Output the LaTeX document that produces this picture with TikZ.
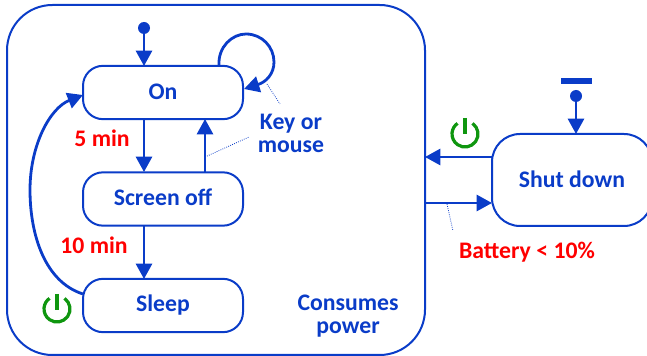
\documentclass[tikz,border=0pt]{standalone}
\usepackage{fontspec}
\setmainfont{Carlito}
\usetikzlibrary{arrows.meta}
\definecolor{bl}{HTML}{0A3CC8}
\definecolor{rd}{HTML}{FF0000}
\definecolor{gr}{HTML}{0F960F}
\tikzset{x=0.75pt,y=-0.75pt,
 statebox/.style={draw=bl,line width=1.5pt,rounded corners=15pt,minimum width=120pt,minimum height=40pt,inner sep=0pt},
 outerbox/.style={draw=bl,line width=1.5pt,rounded corners=34pt,minimum width=313.5pt,minimum height=262.5pt,inner sep=0pt},
 conn/.style={draw=bl,line width=2.1pt,-{Triangle[length=11.5pt,width=12pt]}},
 dot/.style={circle,fill=bl,minimum size=9pt,inner sep=0pt},
 leader/.style={draw=bl,line width=0.6pt,densely dotted},
 lbl/.style={font=\fontsize{17.8}{17.2}\selectfont\bfseries,text=bl,align=center,inner sep=0pt},
 redlbl/.style={font=\fontsize{17.8}{17}\selectfont\bfseries,text=rd,inner sep=0pt},
 powerarc/.style={draw=gr,line width=2.4pt},
}
\begin{document}
\begin{tikzpicture}
\useasboundingbox (0,0) rectangle (647,356);
\node[outerbox] (outer) at (216,180) {};
\node[statebox] (on) at (163,92.5) {};
\node[lbl] (ontext) at (163,92) {On};
\node[statebox] (screen) at (163,199) {};
\node[lbl] (screentext) at (163,197) {Screen off};
\node[statebox] (sleep) at (163,305.5) {};
\node[lbl] (sleeptext) at (163,305) {Sleep};
\node[draw=bl,line width=1.5pt,rounded corners=21pt,minimum width=120pt,minimum height=69pt,inner sep=0pt] (shut) at (572,180) {};
\node[lbl] (shuttext) at (572,179) {Shut down};
\node[dot] (init) at (144,28) {};
\node[dot] (init2) at (576,96) {};
\node[fill=bl,minimum width=23pt,minimum height=4.5pt,inner sep=0pt] (bar) at (576.5,81) {};
\coordinate (onA) at (144,66);
\coordinate (onB) at (144,119);
\coordinate (scA) at (144,172);
\coordinate (scB) at (205,172);
\coordinate (onC) at (205,119);
\coordinate (scC) at (144,226);
\coordinate (slA) at (144,279);
\coordinate (shT) at (576,134);
\draw[conn] (init) -- (onA);
\draw[conn] (onB) -- (scA);
\draw[conn] (scB) -- (onC);
\draw[conn] (scC) -- (slA);
\draw[conn] (init2) -- (shT);
\coordinate (slL) at (83,294);
\coordinate (onL) at (83,95);
\draw[conn] (slL) .. controls (45,282) and (30,235) .. (30,190) .. controls (30,145) and (50,108) .. (onL);
\coordinate (loopS) at (219,65);
\coordinate (loopE) at (244,89);
\draw[conn] (loopS) .. controls (218,47) and (232,34) .. (246,34) .. controls (262,34) and (274,47) .. (274,62) .. controls (274,74) and (266,82) .. (loopE);
\coordinate (oR1) at (425,157);
\coordinate (sL1) at (492,157);
\coordinate (oR2) at (425,203);
\coordinate (sL2) at (492,203);
\draw[conn] (sL1) -- (oR1);
\draw[conn] (oR2) -- (sL2);
\coordinate (k1) at (267,84); \coordinate (k2) at (280,104);
\coordinate (k3) at (205,157); \coordinate (k4) at (249,137);
\coordinate (k5) at (447,204); \coordinate (k6) at (453,231);
\draw[leader] (k1) -- (k2);
\draw[leader] (k3) -- (k4);
\draw[leader] (k5) -- (k6);
\node[lbl] (key) at (291,133.5) {Key or\\mouse};
\node[lbl] (cons) at (348,316) {Consumes\\power};
\node[redlbl] (five) at (102,138) {5 min};
\node[redlbl] (ten) at (94,245) {10 min};
\node[redlbl] (bat) at (527,252) {Battery < 10\%};
\draw[powerarc] (64.46,298.35) arc[start angle=55,end angle=-235,radius=9.75pt];
\draw[powerarc] (57,294) -- (57,310);
\draw[powerarc] (472.46,123.35) arc[start angle=55,end angle=-235,radius=9.75pt];
\draw[powerarc] (465,118) -- (465,134);
\end{tikzpicture}
\end{document}
